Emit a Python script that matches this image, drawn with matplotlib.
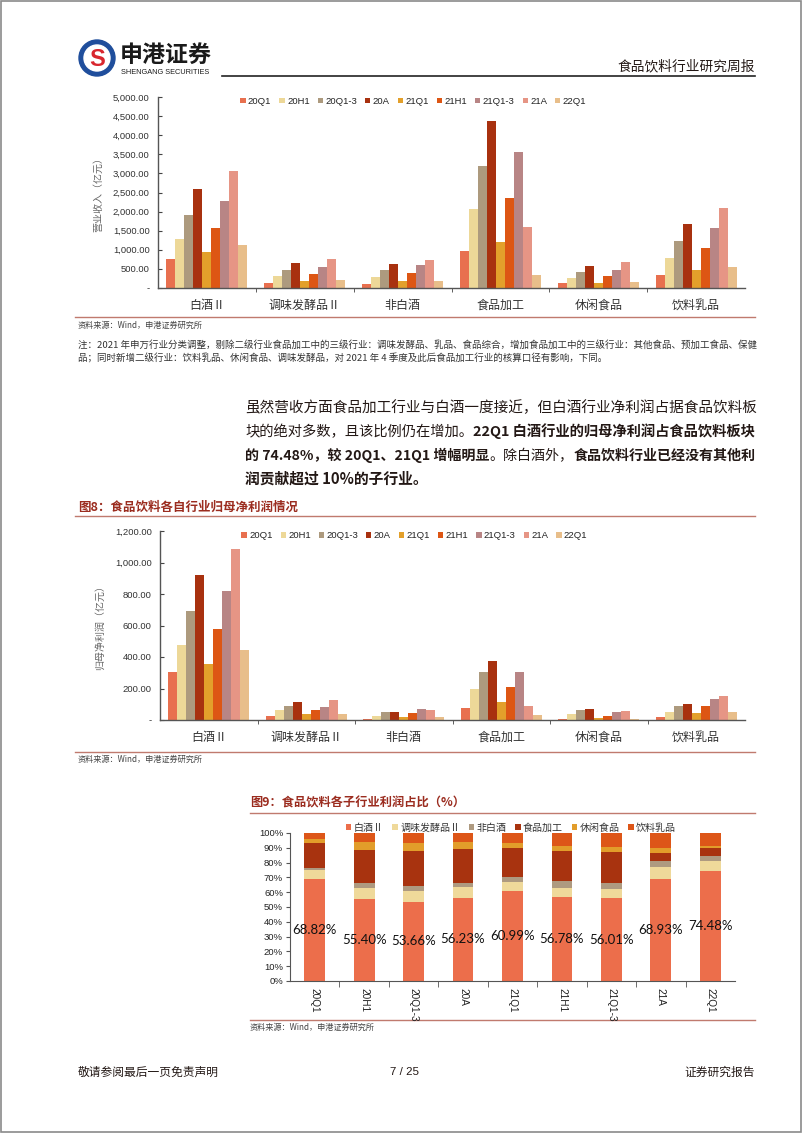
import matplotlib
matplotlib.use('Agg')
import matplotlib.pyplot as plt
from matplotlib.patches import Rectangle, Circle
from matplotlib.ticker import FuncFormatter, MultipleLocator, FixedLocator
import numpy as np

W, H = 802, 1133
CJK = ['Noto Sans CJK SC', 'DejaVu Sans']
LAT = ['Liberation Sans', 'Noto Sans CJK SC']
plt.rcParams['font.family'] = CJK

# ---------------- data ----------------
periods = ['20Q1', '20H1', '20Q1-3', '20A', '21Q1', '21H1', '21Q1-3', '21A', '22Q1']
sectors = ['白酒Ⅱ', '调味发酵品Ⅱ', '非白酒', '食品加工', '休闲食品', '饮料乳品']

# revenue (亿元) per period, across sectors
rev_20Q1 = [763, 140, 105, 965, 132, 333]
rev_20H1 = [1289, 316, 290, 2061, 263, 780]
rev_20Q1_3 = [1903, 474, 474, 3184, 430, 1237]
rev_20A = [2587, 667, 640, 4359, 588, 1684]
rev_21Q1 = [938, 184, 175, 1201, 140, 465]
rev_21H1 = [1579, 368, 395, 2368, 316, 1035]
rev_21Q1_3 = [2280, 544, 605, 3552, 482, 1570]
rev_21A = [3052, 772, 728, 1596, 684, 2087]
rev_22Q1 = [1114, 210, 193, 351, 167, 552]

# net profit attributable (亿元)
np_20Q1 = [302, 27, 4, 76, 6, 17]
np_20H1 = [478, 63, 27, 199, 40, 52]
np_20Q1_3 = [690, 86, 50, 306, 61, 90]
np_20A = [919, 117, 50, 376, 71, 99]
np_21Q1 = [357, 36, 19, 115, 13, 42]
np_21H1 = [579, 63, 44, 212, 27, 90]
np_21Q1_3 = [822, 82, 69, 306, 48, 136]
np_21A = [1083, 126, 63, 86, 57, 153]
np_22Q1 = [447, 38, 19, 29, 4, 52]

# profit share (%) per sector across periods
sh_baijiu = [68.82, 55.40, 53.66, 56.23, 60.99, 56.78, 56.01, 68.93, 74.48]
sh_tiaowei = [6.5, 7.3, 6.9, 7.4, 6.0, 6.3, 6.0, 8.0, 6.5]
sh_feibaijiu = [1.2, 3.4, 3.7, 2.9, 3.6, 4.3, 4.5, 3.9, 3.2]
sh_shipin = [16.9, 22.4, 23.7, 22.6, 19.4, 20.6, 20.8, 5.6, 5.4]
sh_xiuxian = [2.5, 5.6, 5.0, 4.8, 3.0, 3.0, 3.2, 3.4, 1.8]
sh_yinliao = [4.1, 5.9, 7.0, 6.1, 7.0, 9.0, 9.5, 10.2, 8.6]

rev_series = [rev_20Q1, rev_20H1, rev_20Q1_3, rev_20A, rev_21Q1, rev_21H1, rev_21Q1_3, rev_21A, rev_22Q1]
np_series = [np_20Q1, np_20H1, np_20Q1_3, np_20A, np_21Q1, np_21H1, np_21Q1_3, np_21A, np_22Q1]
share_series = [sh_baijiu, sh_tiaowei, sh_feibaijiu, sh_shipin, sh_xiuxian, sh_yinliao]

period_colors = ['#E8704F', '#EDD898', '#AD9A7E', '#A8310F', '#E3A02B',
                 '#DD5614', '#B88585', '#E69585', '#E8BE8A']
sector_colors = ['#EC6E4B', '#EFD99A', '#AE9A80', '#A8330F', '#E29D2A', '#DD5618']

TITLE_C = '#9B2C1F'
LINE_C = '#C07A6E'
TXT_C = '#231815'

fig = plt.figure(figsize=(W / 100, H / 100), dpi=100)
bg = fig.add_axes([0, 0, 1, 1])
bg.set_xlim(0, W)
bg.set_ylim(H, 0)
bg.axis('off')


def rect(x0, y0, x1, y1):
    return [x0 / W, 1 - y1 / H, (x1 - x0) / W, (y1 - y0) / H]


def pt(px):
    return px / (100 / 72)


# page border
bg.add_patch(Rectangle((0.5, 0.5), W - 1.5, H - 1.5, fill=False, ec='#8a8a8a', lw=1.2))

# ---------------- header ----------------
bg.add_patch(Circle((97, 58), 18, color='#1F4E9C'))
bg.add_patch(Circle((97, 58), 13, color='white'))
bg.text(97, 59, 'S', color='#D8262E', fontsize=17, weight='bold', ha='center', va='center',
        family=LAT)
bg.text(120, 55, '申港证券', fontsize=pt(23), weight='bold', color='#1a1a1a', va='center')
bg.text(121, 72, 'SHENGANG SECURITIES', fontsize=pt(7.4), color='#1a1a1a', va='center', family=LAT)
bg.plot([222, 755], [76, 76], color='#222222', lw=1.2)
bg.text(755, 66, '食品饮料行业研究周报', fontsize=pt(13.7), color=TXT_C, ha='right', va='center')


def ytick_fmt(v, _):
    return '-' if abs(v) < 1e-9 else f'{v:,.2f}'


def grouped(ax, series, ymax, ystep, ylabel):
    n = len(series)
    bw = 0.092
    x = np.arange(len(sectors))
    for i, s in enumerate(series):
        ax.bar(x + (i - (n - 1) / 2) * bw, s, width=bw, color=period_colors[i],
               label=periods[i], zorder=2)
    ax.set_xlim(-0.5, len(sectors) - 0.5)
    ax.set_ylim(0, ymax)
    ax.yaxis.set_major_locator(MultipleLocator(ystep))
    ax.yaxis.set_major_formatter(FuncFormatter(ytick_fmt))
    ax.set_xticks(x)
    ax.set_xticklabels(sectors, fontsize=pt(12), color='#333333')
    ax.xaxis.set_minor_locator(FixedLocator(np.arange(0.5, len(sectors) - 0.5, 1)))
    ax.tick_params(axis='x', which='major', length=0, pad=8)
    ax.tick_params(axis='x', which='minor', length=3, direction='out', color='#444444')
    ax.tick_params(axis='y', length=3, direction='in', color='#444444', labelsize=pt(9.5), pad=6)
    for lab in ax.get_yticklabels():
        lab.set_family(LAT)
        lab.set_color('#333333')
    for sp in ['top', 'right']:
        ax.spines[sp].set_visible(False)
    for sp in ['left', 'bottom']:
        ax.spines[sp].set_color('#555555')
        ax.spines[sp].set_linewidth(1.0)
    ax.set_ylabel(ylabel, fontsize=pt(10), color='#666666', labelpad=7)
    ax.patch.set_alpha(0)
    leg = ax.legend(loc='upper center', bbox_to_anchor=(0.435, 1.045), ncol=9, frameon=False,
                    handlelength=0.55, handleheight=0.55, handletextpad=0.25, columnspacing=0.85,
                    prop={'family': LAT, 'size': pt(9.5)})
    for t in leg.get_texts():
        t.set_color('#222222')
    return ax


SRC_SIZE = pt(8.2)

# ---------------- chart 1 ----------------
ax1 = fig.add_axes(rect(158, 97, 745, 288))
grouped(ax1, rev_series, 5000, 500, '营业收入（亿元）')

bg.plot([75, 755], [317, 317], color=LINE_C, lw=1.0)
bg.text(78, 325, '资料来源：Wind，申港证券研究所', fontsize=SRC_SIZE, color='#444444', va='center',
        style='italic')
bg.text(78, 345, '注：2021 年申万行业分类调整，剔除二级行业食品加工中的三级行业：调味发酵品、乳品、食品综合，'
                 '增加食品加工中的三级行业：其他食品、预加工食品、保健',
        fontsize=pt(9.5), color='#333333', va='center', style='italic')
bg.text(78, 359, '品；同时新增二级行业：饮料乳品、休闲食品、调味发酵品，对 2021 年 4 季度及此后食品加工行业的核算口径有影响，下同。',
        fontsize=pt(9.5), color='#333333', va='center', style='italic')

# ---------------- paragraph (each line fitted to the column width) ----------------
renderer = fig.canvas.get_renderer()
psize = pt(14.8)


def seg_widths(segs, size):
    ws = []
    for txt, b in segs:
        t = bg.text(0, 500, txt, fontsize=size, weight='bold' if b else 'normal')
        ws.append(t.get_window_extent(renderer=renderer).width)
        t.remove()
    return ws


def rich_line(x, y, segs, fit_to=None):
    size = psize
    if fit_to is not None:
        size = psize * (fit_to - x) / sum(seg_widths(segs, psize))
    ws = seg_widths(segs, size)
    for (txt, b), w in zip(segs, ws):
        bg.text(x, y, txt, fontsize=size, weight='bold' if b else 'normal',
                color=TXT_C, va='baseline', ha='left')
        x += w


BL = 5
rich_line(245, 407 + BL, [('虽然营收方面食品加工行业与白酒一度接近，但白酒行业净利润占据食品饮料板', False)], 755)
rich_line(245, 431 + BL, [('块的绝对多数，且该比例仍在增加。', False),
                          ('22Q1 白酒行业的归母净利润占食品饮料板块', True)], 755)
rich_line(245, 455 + BL, [('的 74.48%，较 20Q1、21Q1 增幅明显', True), ('。除白酒外，', False),
                          ('食品饮料行业已经没有其他利', True)], 755)
rich_line(245, 479 + BL, [('润贡献超过 10%的子行业。', True)])

# ---------------- chart 2 ----------------
bg.text(78, 507, '图8：食品饮料各自行业归母净利润情况', fontsize=pt(12.5), weight='bold',
        color=TITLE_C, va='center')
bg.plot([75, 755], [516, 516], color=LINE_C, lw=1.0)
ax2 = fig.add_axes(rect(160, 531, 745, 720))
grouped(ax2, np_series, 1200, 200, '归母净利润（亿元）')
bg.plot([75, 755], [752, 752], color=LINE_C, lw=1.0)
bg.text(78, 759, '资料来源：Wind，申港证券研究所', fontsize=SRC_SIZE, color='#444444', va='center',
        style='italic')

# ---------------- chart 3 ----------------
bg.text(250, 803, '图9：食品饮料各子行业利润占比（%）', fontsize=pt(12.2), weight='bold',
        color=TITLE_C, va='center')
bg.plot([250, 755], [813, 813], color=LINE_C, lw=1.0)
ax3 = fig.add_axes(rect(290, 833, 735, 981))
xp = np.arange(len(periods))
bottom = np.zeros(len(periods))
for i, s in enumerate(share_series):
    ax3.bar(xp, s, width=0.42, bottom=bottom, color=sector_colors[i], label=sectors[i], zorder=2)
    bottom = bottom + np.array(s)
for i, v in enumerate(sh_baijiu):
    ax3.text(xp[i], v / 2, f'{v:.2f}%', ha='center', va='center', fontsize=pt(13.2),
             family=['Lato', 'DejaVu Sans'], color='#111111', zorder=3)
ax3.set_xlim(-0.5, len(periods) - 0.5)
ax3.set_ylim(0, 100)
ax3.yaxis.set_major_locator(MultipleLocator(10))
ax3.yaxis.set_major_formatter(FuncFormatter(lambda v, _: f'{int(round(v))}%'))
ax3.set_xticks(xp)
ax3.set_xticklabels(periods, rotation=270, fontsize=pt(10), family=LAT, color='#222222')
ax3.xaxis.set_minor_locator(FixedLocator(np.arange(0.5, len(periods) - 0.5, 1)))
ax3.tick_params(axis='x', which='major', length=0, pad=5)
ax3.tick_params(axis='x', which='minor', length=4, direction='out', color='#555555')
ax3.tick_params(axis='y', length=3, direction='out', color='#555555', labelsize=pt(9.5), pad=2)
for lab in ax3.get_yticklabels():
    lab.set_family(LAT)
    lab.set_color('#222222')
for sp in ['top', 'right']:
    ax3.spines[sp].set_visible(False)
for sp in ['left', 'bottom']:
    ax3.spines[sp].set_color('#555555')
ax3.patch.set_alpha(0)
leg3 = fig.legend(*ax3.get_legend_handles_labels(), loc='center',
                  bbox_to_anchor=(511 / W, 1 - 828 / H), ncol=6, frameon=False,
                  handlelength=0.55, handleheight=0.55, handletextpad=0.25, columnspacing=0.85,
                  prop={'size': pt(10)})
for t in leg3.get_texts():
    t.set_color('#333333')
bg.plot([250, 755], [1020, 1020], color=LINE_C, lw=1.0)
bg.text(250, 1027, '资料来源：Wind，申港证券研究所', fontsize=SRC_SIZE, color='#444444', va='center',
        style='italic')

# ---------------- footer ----------------
bg.text(78, 1072, '敬请参阅最后一页免责声明', fontsize=pt(11.8), color=TXT_C, va='center')
bg.text(405, 1072, '7 / 25', fontsize=pt(11.5), color=TXT_C, va='center', ha='center', family=LAT)
bg.text(755, 1072, '证券研究报告', fontsize=pt(11.8), color=TXT_C, va='center', ha='right')

fig.savefig('out.png', dpi=100)
